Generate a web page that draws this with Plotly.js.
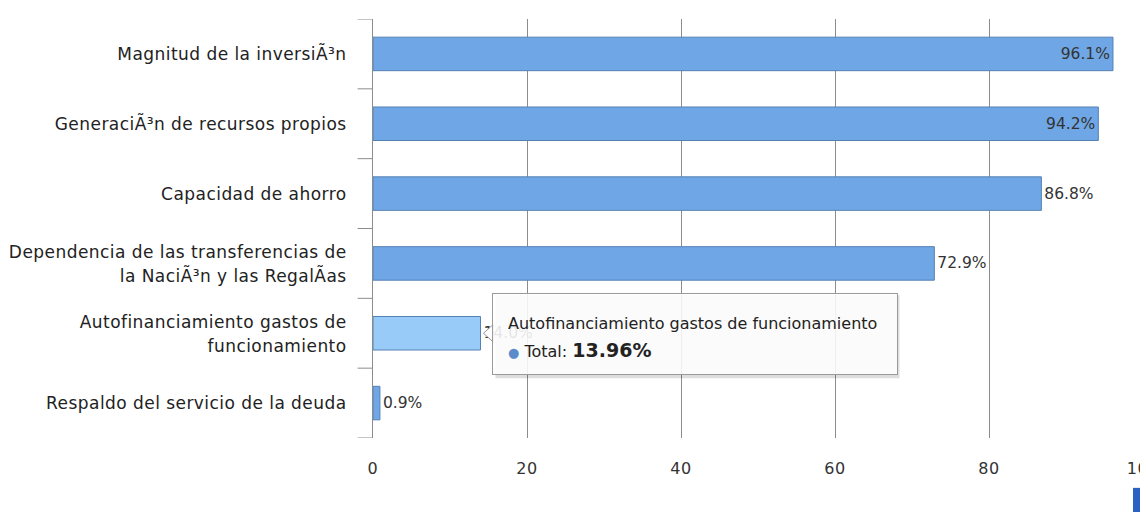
<!DOCTYPE html>
<html>
<head>
<meta charset="utf-8">
<script src="https://cdn.plot.ly/plotly-3.0.1.min.js"></script>
<style>
html, body { margin: 0; padding: 0; overflow: hidden; background: #fff; }
#wrap { width: 1140px; height: 512px; overflow: hidden; }
#chart { width: 1150px; height: 512px; }
#chart .ytick text { letter-spacing: 0.45px; }
#chart .xtick text { letter-spacing: 0.6px; }
</style>
</head>
<body>
<div id="wrap"><div id="chart"></div></div>
<script>
// ---- data ----
const categories = [
  "Magnitud de la inversiÃ³n",
  "GeneraciÃ³n de recursos propios",
  "Capacidad de ahorro",
  "Dependencia de las transferencias de<br>la NaciÃ³n y las RegalÃ\u00ADas",
  "Autofinanciamiento gastos de<br>funcionamiento",
  "Respaldo del servicio de la deuda"
];
const values = [96.1, 94.2, 86.8, 72.9, 13.96, 0.9];
const labelPositions = ["inside", "inside", "outside", "outside", "outside", "outside"];
const hoveredIndex = 4;
const tooltipTitle = "Autofinanciamiento gastos de funcionamiento";
const tooltipSeries = "Total";
const xTickValues = [0, 20, 40, 60, 80, 100];

const baseFill = "#6fa7e6";
const hoverFill = "#98cbf8";
const fills = values.map((v, i) => i === hoveredIndex ? hoverFill : baseFill);

const labelFont = { family: "DejaVu Sans", size: 15.5, color: "#333333" };

const trace = {
  type: "bar",
  orientation: "h",
  y: categories.map((c, i) => i),
  x: values,
  marker: { color: fills, line: { color: "#5580b4", width: 1 } },
  texttemplate: "%{x:.1f}%",
  textposition: labelPositions,
  insidetextanchor: "end",
  textfont: labelFont,
  insidetextfont: labelFont,
  outsidetextfont: labelFont,
  constraintext: "none",
  cliponaxis: false,
  hoverinfo: "skip"
};

const layout = {
  width: 1150,
  height: 512,
  margin: { l: 373, r: 7, t: 19, b: 74 },
  paper_bgcolor: "#ffffff",
  plot_bgcolor: "#ffffff",
  showlegend: false,
  bargap: 0.52,
  xaxis: {
    range: [0, 100],
    tickvals: xTickValues,
    ticktext: xTickValues.map(String),
    ticklabeloverflow: "allow",
    showgrid: true,
    gridcolor: "#8c8c8c",
    gridwidth: 1,
    zeroline: false,
    showline: false,
    ticks: "",
    ticklabelstandoff: 19,
    tickfont: { family: "DejaVu Sans", size: 16, color: "#333333" },
    fixedrange: true
  },
  yaxis: {
    type: "linear",
    range: [5.5, -0.5],
    tickmode: "array",
    tickvals: categories.map((c, i) => i),
    ticktext: categories,
    showgrid: false,
    zeroline: false,
    showline: true,
    linecolor: "#8c8c8c",
    linewidth: 1,
    ticks: "",
    ticklabelstandoff: 22,
    tickfont: { family: "DejaVu Sans", size: 17, color: "#222222" },
    fixedrange: true
  },
  shapes: [
    // category boundary tick marks on the y axis
    ...[-0.5, 0.5, 1.5, 2.5, 3.5, 4.5, 5.5].map(b => ({
      type: "line", xref: "paper", yref: "y",
      x0: -0.02, x1: 0, y0: b, y1: b,
      line: { color: "#8c8c8c", width: 1 }
    })),
    // tooltip shadow
    {
      type: "rect",
      xref: "x", yref: "y",
      xsizemode: "pixel", ysizemode: "pixel",
      xanchor: values[hoveredIndex], yanchor: hoveredIndex,
      x0: 15, x1: 419, y0: -45, y1: 38,
      fillcolor: "rgba(0,0,0,0.13)",
      line: { width: 0 },
      layer: "above"
    },
    // tooltip pointer
    {
      type: "path",
      xref: "x", yref: "y",
      xsizemode: "pixel", ysizemode: "pixel",
      xanchor: values[hoveredIndex], yanchor: hoveredIndex,
      path: "M 13,9 L 3,0 L 13,-9 Z",
      fillcolor: "#ffffff",
      line: { color: "#9a9a9a", width: 1 },
      layer: "above"
    },
    // partial blue element at the bottom-right corner
    {
      type: "rect", xref: "paper", yref: "paper",
      x0: 0.987, x1: 1.01, y0: -0.119, y1: -0.2,
      fillcolor: "#2a62c4", line: { width: 0 }
    }
  ],
  annotations: [
    {
      x: values[hoveredIndex], y: hoveredIndex,
      xref: "x", yref: "y",
      xanchor: "left", yanchor: "middle",
      xshift: 12, yshift: -1,
      showarrow: false,
      align: "left",
      valign: "middle",
      width: 374, height: 50,
      borderpad: 15,
      bgcolor: "rgba(255,255,255,0.88)",
      bordercolor: "#9a9a9a",
      borderwidth: 1,
      font: { family: "DejaVu Sans", size: 16, color: "#222222" },
      text: tooltipTitle + "<br><span style='color:#5b8bc8;font-size:13px'>●</span> " + tooltipSeries +
            ": <b><span style='font-size:19px'>" + values[hoveredIndex].toFixed(2) + "%</span></b>"
    }
  ]
};

function widenLines(root, selector, factor) {
  root.querySelectorAll(selector).forEach(t => {
    const dy = t.getAttribute("dy");
    if (dy && dy.endsWith("em")) {
      const v = parseFloat(dy);
      if (v !== 0) t.setAttribute("dy", (v * factor) + "em");
    }
  });
}

Plotly.newPlot("chart", [trace], layout, { displayModeBar: false, staticPlot: true }).then(gd => {
  // widen the spacing between the lines of wrapped category labels and the tooltip
  widenLines(gd, ".ytick text tspan.line", 24 / (1.3 * 17));
  widenLines(gd, ".annotation-text tspan.line", 28 / (1.3 * 16));
});
</script>
</body>
</html>
